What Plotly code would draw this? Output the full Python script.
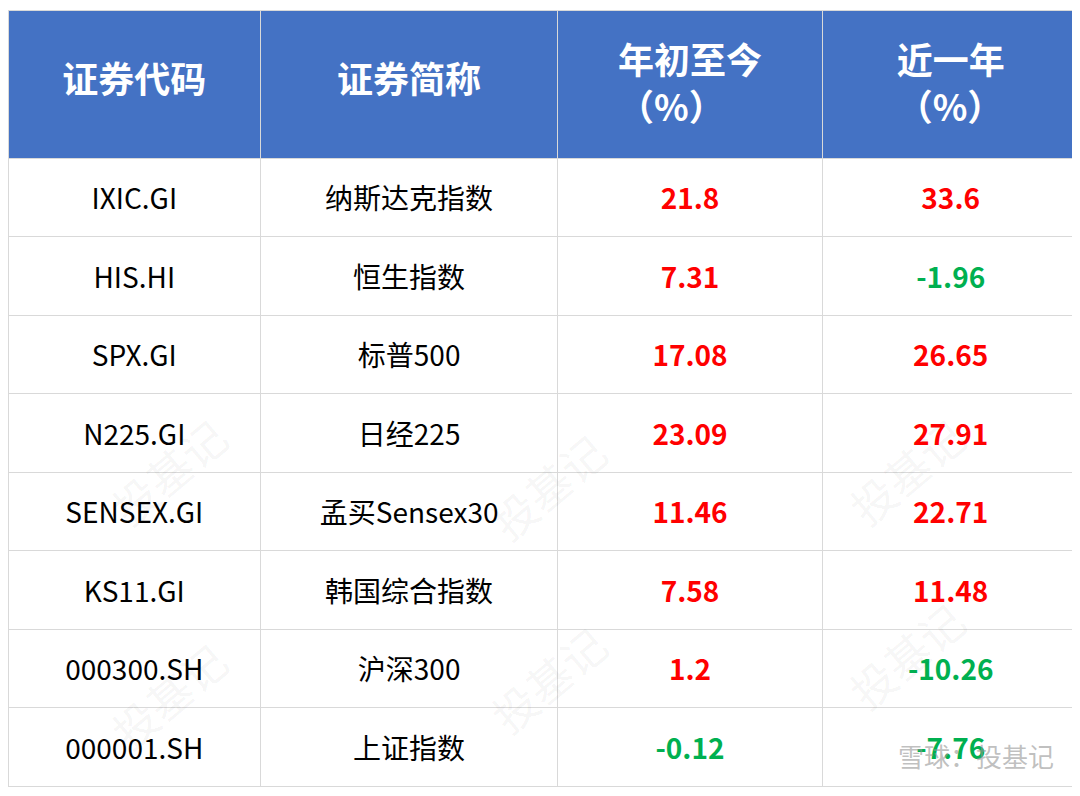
import plotly.graph_objects as go

codes = ["IXIC.GI", "HIS.HI", "SPX.GI", "N225.GI", "SENSEX.GI", "KS11.GI", "000300.SH", "000001.SH"]
names = ["纳斯达克指数", "恒生指数", "标普500", "日经225", "孟买Sensex30", "韩国综合指数", "沪深300", "上证指数"]
ytd = ["21.8", "7.31", "17.08", "23.09", "11.46", "7.58", "1.2", "-0.12"]
one_year = ["33.6", "-1.96", "26.65", "27.91", "22.71", "11.48", "-10.26", "-7.76"]
headers = ["证券代码", "证券简称", "年初至今<br>（%）", "近一年<br>（%）"]

RED, GREEN = "#FF0000", "#00B050"
PAD = "<span style='font-size:6px'> </span><br>"


def color_of(vals):
    return [GREEN if v.startswith("-") else RED for v in vals]


def pad(vals):
    return [PAD + v for v in vals]


def head(h):
    if "<br>" in h:
        top, bottom = h.split("<br>")
        return f"<span style='font-size:8px'> </span><br><b>{top}</b><br><b>{bottom}</b>"
    return f"<span style='font-size:24px'> </span><br><b>{h}</b>"


fig = go.Figure(go.Table(
    columnwidth=[250, 294, 262, 254],
    header=dict(
        values=[head(h) for h in headers],
        fill_color="#4472C4",
        line=dict(color="#D9D9D9", width=1),
        font=dict(color="white", size=36, family="Noto Sans CJK SC"),
        align="center",
        height=148,
    ),
    cells=dict(
        values=[pad(codes), pad(names), pad(ytd), pad(one_year)],
        fill_color="white",
        line=dict(color="#D9D9D9", width=1),
        font=dict(color=[["#000000"] * 8, ["#000000"] * 8, color_of(ytd), color_of(one_year)],
                  weight=["normal", "normal", "bold", "bold"],
                  size=28, family="Noto Sans CJK SC"),
        align="center",
        height=78.5,
    ),
    domain=dict(x=[0, 0.992], y=[0, 1]),
))

# faint watermark
for x, y in [(0.08, 0.42), (0.5, 0.4), (0.9, 0.42), (0.08, 0.05), (0.5, 0.07), (0.9, 0.1)]:
    fig.add_annotation(x=x, y=y, xref="paper", yref="paper", text="投基记", showarrow=False,
                       textangle=-40, font=dict(size=44, color="rgba(0,0,0,0.05)", family="Noto Sans CJK SC"))
fig.add_annotation(x=0.97, y=0.035, xref="paper", yref="paper", text="雪球：投基记", showarrow=False,
                   xanchor="right", font=dict(size=26, color="rgba(150,150,150,0.6)", family="Noto Sans CJK SC"))

fig.update_layout(width=1080, height=796, margin=dict(l=0, r=0, t=2, b=0),
                  paper_bgcolor="white")
fig.write_html("out.html")
